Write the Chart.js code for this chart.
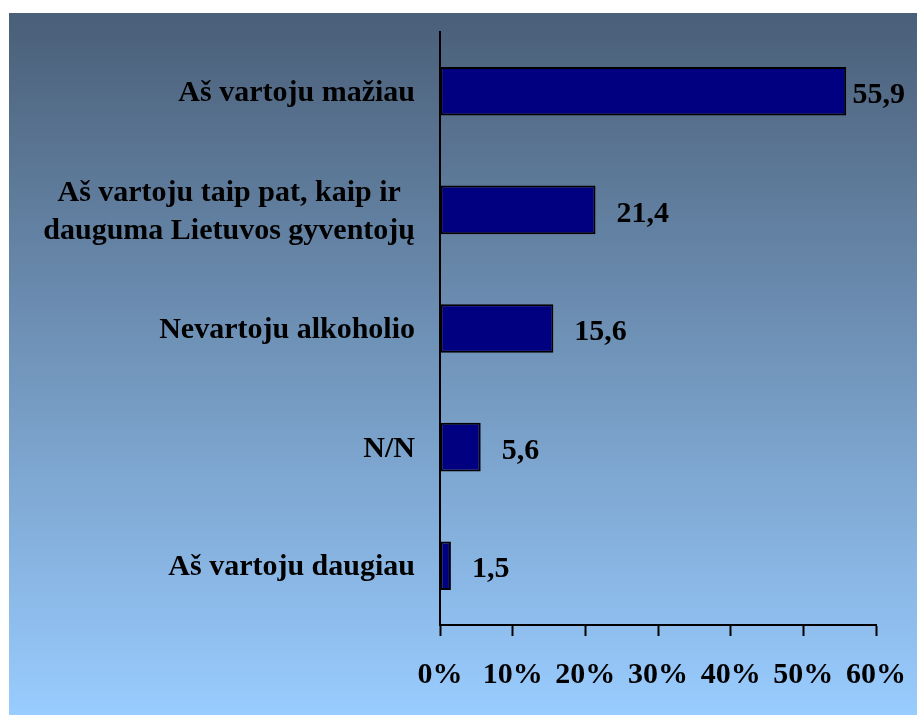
<!DOCTYPE html>
<html>
<head>
<meta charset="utf-8">
<script src="https://cdn.jsdelivr.net/npm/chart.js@4/dist/chart.umd.min.js"></script>
<style>
  html, body { margin: 0; padding: 0; background: #fff; }
  canvas { display: block; }
</style>
</head>
<body>
<canvas id="chart" width="917" height="715"></canvas>
<script>
// categories, top to bottom
const categories = [
  "Aš vartoju mažiau",
  ["Aš vartoju taip pat, kaip ir", "dauguma Lietuvos gyventojų"],
  "Nevartoju alkoholio",
  "N/N",
  "Aš vartoju daugiau"
];
const values = [55.9, 21.4, 15.6, 5.6, 1.5];
const valueLabels = ["55,9", "21,4", "15,6", "5,6", "1,5"];
const tickValues = [0, 10, 20, 30, 40, 50, 60];

const FONT = "'Liberation Serif', 'Times New Roman', serif";

// gradient panel behind the chart
const backdrop = {
  id: 'backdrop',
  beforeDraw(chart) {
    const ctx = chart.ctx;
    const g = ctx.createLinearGradient(0, 13, 0, 715);
    g.addColorStop(0, '#4a5f78');
    g.addColorStop(1, '#99ccff');
    ctx.save();
    ctx.fillStyle = g;
    ctx.fillRect(9, 13, 908, 702);
    ctx.restore();
  }
};

// category labels (multi-line ones centred on themselves) + value labels
const labelsPlugin = {
  id: 'labelsPlugin',
  afterDraw(chart) {
    const ctx = chart.ctx;
    const y = chart.scales.y;
    const meta = chart.getDatasetMeta(0);
    ctx.save();
    ctx.font = 'bold 30px ' + FONT;
    ctx.fillStyle = '#000';
    ctx.textBaseline = 'middle';

    categories.forEach((c, i) => {
      const cy = y.getPixelForValue(i) + 2;
      const lines = Array.isArray(c) ? c : [c];
      const right = 415;
      if (lines.length === 1) {
        ctx.textAlign = 'right';
        ctx.fillText(lines[0], right, cy);
      } else {
        const w = Math.max(...lines.map(l => ctx.measureText(l).width));
        const mid = right - w / 2;
        ctx.textAlign = 'center';
        const lh = 38;
        lines.forEach((l, k) => {
          ctx.fillText(l, mid, cy + (k - (lines.length - 1) / 2) * lh);
        });
      }
    });

    ctx.textAlign = 'left';
    meta.data.forEach((bar, i) => {
      const t = valueLabels[i];
      const w = ctx.measureText(t).width;
      const x = Math.min(bar.x + 21, 905 - w);
      ctx.fillText(t, x, bar.y + 4);
    });
    ctx.restore();
  }
};

new Chart(document.getElementById('chart'), {
  type: 'bar',
  data: {
    labels: categories,
    datasets: [{
      data: values,
      backgroundColor: '#000080',
      borderColor: '#000',
      borderWidth: 2,
      borderSkipped: false,
      barPercentage: 0.41,
      categoryPercentage: 1
    }]
  },
  options: {
    indexAxis: 'y',
    responsive: false,
    animation: false,
    layout: { padding: { top: 32, right: 41, left: 9, bottom: 0 } },
    plugins: {
      legend: { display: false },
      tooltip: { enabled: false }
    },
    scales: {
      x: {
        min: 0,
        max: 60,
        afterBuildTicks(scale) {
          scale.ticks = tickValues.map(v => ({ value: v }));
        },
        afterFit(scale) {
          scale.height = 715 - 625;
          scale.paddingLeft = 0;
          scale.paddingRight = 0;
        },
        grid: {
          drawOnChartArea: false,
          drawTicks: true,
          tickLength: 11,
          tickWidth: 2,
          tickColor: '#000'
        },
        border: { display: true, color: '#000', width: 2 },
        ticks: {
          color: '#000',
          padding: 21,
          maxRotation: 0,
          autoSkip: false,
          font: { family: FONT, size: 30, weight: 'bold' },
          callback: v => v + '%'
        }
      },
      y: {
        afterFit(scale) { scale.width = 440 - 9; },
        grid: { drawOnChartArea: false, drawTicks: false },
        border: { display: true, color: '#000', width: 2 },
        ticks: { display: false }
      }
    }
  },
  plugins: [backdrop, labelsPlugin]
});
</script>
</body>
</html>
